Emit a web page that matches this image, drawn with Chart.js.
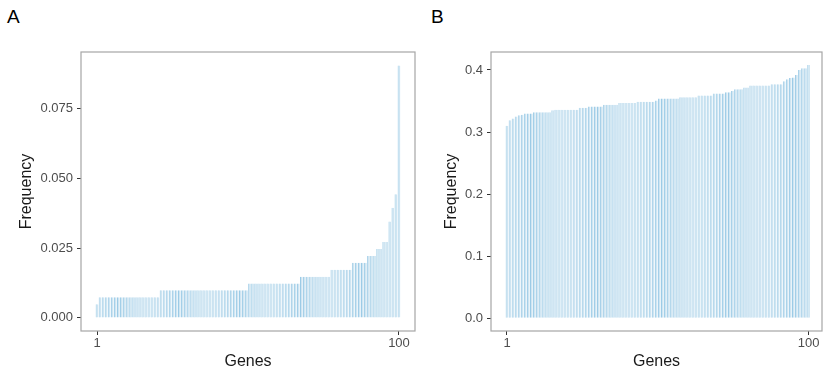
<!DOCTYPE html>
<html>
<head>
<meta charset="utf-8">
<script src="https://cdn.jsdelivr.net/npm/chart.js@4"></script>
<style>
  body { margin: 0; width: 823px; height: 370px; overflow: hidden; background: #fff; font-family: "Liberation Sans", Arial, sans-serif; }
  .panel { position: absolute; top: 0; }
  .tag { position: absolute; font-size: 19px; color: #000; line-height: 22px; }
</style>
</head>
<body>
<div class="tag" style="left:7px;top:6px">A</div>
<div class="tag" style="left:431px;top:6px">B</div>
<div class="panel" style="left:0"><canvas id="chartA" width="420" height="371"></canvas></div>
<div class="panel" style="left:420px"><canvas id="chartB" width="403" height="371"></canvas></div>
<script>
// gene rank on the x axis (1..100)
const genes = Array.from({ length: 100 }, (_, i) => i + 1);
const xTicks = [1, 100];

const freqA = [
  0.0049, 0.0074, 0.0074, 0.0074, 0.0074, 0.0074, 0.0074, 0.0074, 0.0074, 0.0074,
  0.0074, 0.0074, 0.0074, 0.0074, 0.0074, 0.0074, 0.0074, 0.0074, 0.0074, 0.0074,
  0.0074, 0.0099, 0.0099, 0.0099, 0.0099, 0.0099, 0.0099, 0.0099, 0.0099, 0.0099,
  0.0099, 0.0099, 0.0099, 0.0099, 0.0099, 0.0099, 0.0099, 0.0099, 0.0099, 0.0099,
  0.0099, 0.0099, 0.0099, 0.0099, 0.0099, 0.0099, 0.0099, 0.0099, 0.0099, 0.0099,
  0.0123, 0.0123, 0.0123, 0.0123, 0.0123, 0.0123, 0.0123, 0.0123, 0.0123, 0.0123,
  0.0123, 0.0123, 0.0123, 0.0123, 0.0123, 0.0123, 0.0123, 0.0148, 0.0148, 0.0148,
  0.0148, 0.0148, 0.0148, 0.0148, 0.0148, 0.0148, 0.0148, 0.0173, 0.0173, 0.0173,
  0.0173, 0.0173, 0.0173, 0.0173, 0.0198, 0.0198, 0.0198, 0.0198, 0.0198, 0.0222,
  0.0222, 0.0222, 0.0247, 0.0247, 0.0272, 0.0272, 0.0346, 0.0395, 0.0444, 0.0906
];
const yTicksA = [0, 0.025, 0.05, 0.075];

const freqB = [
  0.310, 0.319, 0.322, 0.325, 0.327, 0.328, 0.330, 0.330, 0.330, 0.332,
  0.332, 0.332, 0.332, 0.332, 0.332, 0.335, 0.336, 0.336, 0.336, 0.336,
  0.336, 0.336, 0.336, 0.336, 0.339, 0.339, 0.339, 0.341, 0.341, 0.341,
  0.341, 0.341, 0.344, 0.344, 0.344, 0.344, 0.344, 0.347, 0.347, 0.347,
  0.347, 0.347, 0.347, 0.349, 0.349, 0.349, 0.349, 0.349, 0.349, 0.351,
  0.354, 0.354, 0.354, 0.354, 0.354, 0.354, 0.354, 0.356, 0.356, 0.356,
  0.356, 0.356, 0.356, 0.359, 0.359, 0.359, 0.359, 0.359, 0.362, 0.362,
  0.362, 0.362, 0.364, 0.364, 0.366, 0.369, 0.369, 0.369, 0.372, 0.372,
  0.375, 0.375, 0.375, 0.375, 0.375, 0.375, 0.375, 0.377, 0.377, 0.377,
  0.377, 0.382, 0.385, 0.387, 0.388, 0.392, 0.400, 0.403, 0.403, 0.408
];
const yTicksB = [0, 0.1, 0.2, 0.3, 0.4];

const barFill = '#cfe5f2';
const barLine = '#9ccbe6';

// grey frame round the plotting area
const panelBorder = {
  id: 'panelBorder',
  afterDraw(chart) {
    const { ctx, chartArea: a } = chart;
    ctx.save();
    ctx.strokeStyle = '#a6a6a6';
    ctx.lineWidth = 1.2;
    ctx.strokeRect(a.left, a.top, a.right - a.left, a.bottom - a.top);
    ctx.restore();
  }
};

function makePanel(id, values, yTicks, cfg) {
  const ctx = document.getElementById(id).getContext('2d');
  return new Chart(ctx, {
    type: 'bar',
    data: {
      datasets: [{
        data: genes.map((g, i) => ({ x: g, y: values[i] })),
        backgroundColor: barFill,
        borderColor: barLine,
        borderWidth: { left: 1, right: 0, top: 0, bottom: 0 },
        categoryPercentage: 1,
        barPercentage: 0.9
      }]
    },
    options: {
      responsive: false,
      animation: false,
      layout: { padding: { top: 52, right: cfg.rightPad, left: 0, bottom: 0 } },
      plugins: { legend: { display: false }, tooltip: { enabled: false } },
      scales: {
        x: {
          type: 'linear',
          offset: false,
          min: cfg.xMin,
          max: cfg.xMax,
          afterBuildTicks: s => { s.ticks = xTicks.map(v => ({ value: v })); },
          afterFit: s => { s.height = 40; },
          grid: { drawOnChartArea: false, drawTicks: true, tickLength: 4, tickColor: '#333', offset: false },
          border: { display: false },
          ticks: { color: '#4d4d4d', font: { size: 13 }, padding: 1, maxRotation: 0, autoSkip: false },
          title: { display: true, text: 'Genes', color: '#1a1a1a', font: { size: 16 }, padding: { top: 0, bottom: 0 } }
        },
        y: {
          min: cfg.yMin,
          max: cfg.yMax,
          afterBuildTicks: s => { s.ticks = yTicks.map(v => ({ value: v })); },
          afterFit: s => { s.width = cfg.yWidth; },
          grid: { drawOnChartArea: false, drawTicks: true, tickLength: 4, tickColor: '#333' },
          border: { display: false },
          ticks: { color: '#4d4d4d', font: { size: 13 }, padding: 4, callback: v => v.toFixed(cfg.digits) },
          title: { display: true, text: 'Frequency', color: '#1a1a1a', font: { size: 16 }, padding: { top: cfg.titlePad, bottom: 0 } }
        }
      }
    },
    plugins: [panelBorder]
  });
}

Chart.defaults.font.family = '"Liberation Sans", Arial, sans-serif';

makePanel('chartA', freqA, yTicksA, {
  xMin: -4.25, xMax: 105.25, yMin: -0.0047, yMax: 0.0954,
  yWidth: 81, rightPad: 5, titlePad: 17, digits: 3
});
makePanel('chartB', freqB, yTicksB, {
  xMin: -4.25, xMax: 104.4, yMin: -0.0205, yMax: 0.429,
  yWidth: 71, rightPad: 1, titlePad: 22, digits: 1
});
</script>
</body>
</html>
